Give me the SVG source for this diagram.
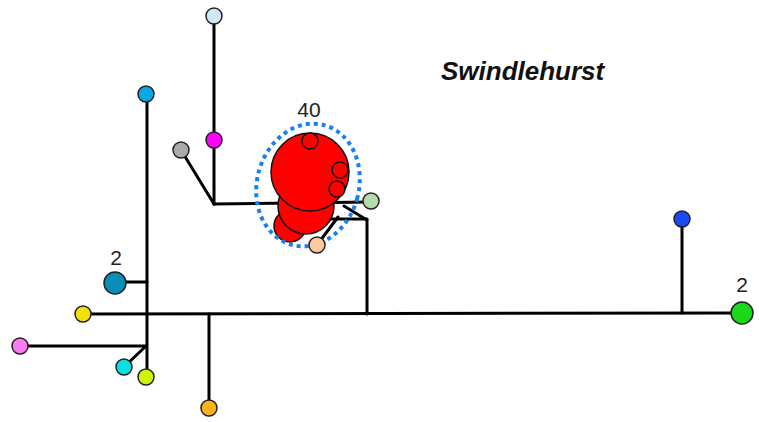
<svg xmlns="http://www.w3.org/2000/svg" width="759" height="422" viewBox="0 0 759 422">
<style>
.e{stroke:#000;stroke-width:3;fill:none;stroke-linecap:round}
.n{stroke:#222;stroke-width:1.5}
.r{fill:#f00;stroke:#111;stroke-width:1.5}
.t{font-family:"Liberation Sans",Arial,sans-serif;font-size:21px;fill:#222}
</style>
<rect width="759" height="422" fill="#fff"/>
<g id="connectors" class="e">
<line x1="83" y1="314" x2="742" y2="313"/>
<line x1="147" y1="94" x2="147" y2="377"/>
<line x1="115" y1="282" x2="147" y2="282"/>
<line x1="20" y1="346" x2="146" y2="346"/>
<line x1="146" y1="346" x2="124" y2="367"/>
<line x1="209" y1="314" x2="209" y2="408"/>
<line x1="214" y1="16" x2="214" y2="204"/>
<line x1="181" y1="150" x2="214" y2="204"/>
<line x1="214" y1="204" x2="371" y2="202"/>
<polyline points="344,206 367,220 367,314"/>
<line x1="330" y1="219" x2="367" y2="219"/>
<line x1="317" y1="245" x2="338" y2="217"/>
<line x1="682" y1="219" x2="682" y2="313"/>
</g>
<g id="hap40">
<circle class="r" cx="290" cy="226" r="16"/>
<circle class="r" cx="306" cy="206" r="28"/>
<circle class="r" cx="310" cy="172" r="39" stroke-width="3"/>
<circle class="r" cx="310" cy="141" r="8"/>
<circle class="r" cx="340" cy="170" r="8"/>
<circle class="r" cx="337" cy="189" r="8"/>
<ellipse cx="308" cy="185" rx="51" ry="62" transform="rotate(15 308 185)" fill="none" stroke="#1a7ff5" stroke-width="4" stroke-dasharray="4 4"/>
<text class="t" x="309" y="117" text-anchor="middle">40</text>
</g>
<g id="n-lightblue"><circle class="n" cx="214" cy="16" r="8" fill="#cfe8f5"/></g>
<g id="n-magenta"><circle class="n" cx="214" cy="140" r="8" fill="#ff00ff"/></g>
<g id="n-gray"><circle class="n" cx="181" cy="150" r="8" fill="#aaaaaa"/></g>
<g id="n-skyblue"><circle class="n" cx="146" cy="94" r="8" fill="#0aa6e8"/></g>
<g id="n-teal"><circle class="n" cx="115" cy="283" r="11" fill="#0a8db8"/><text class="t" x="116" y="265" text-anchor="middle">2</text></g>
<g id="n-yellow"><circle class="n" cx="83" cy="314" r="8" fill="#f5e10a"/></g>
<g id="n-pink"><circle class="n" cx="20" cy="346" r="8" fill="#fa7cf5"/></g>
<g id="n-cyan"><circle class="n" cx="124" cy="367" r="8" fill="#0ae0e0"/></g>
<g id="n-lime"><circle class="n" cx="146" cy="377" r="8" fill="#ccf50a"/></g>
<g id="n-orange"><circle class="n" cx="209" cy="408" r="8" fill="#ffb21a"/></g>
<g id="n-lightgreen"><circle class="n" cx="371" cy="201" r="8" fill="#b5daae"/></g>
<g id="n-peach"><circle class="n" cx="317" cy="245" r="8" fill="#ffc9a0"/></g>
<g id="n-blue"><circle class="n" cx="682" cy="219" r="8" fill="#1a4af5"/></g>
<g id="n-green"><circle class="n" cx="742" cy="313" r="11" fill="#1ad81a"/><text class="t" x="742" y="292" text-anchor="middle">2</text></g>
<text x="441" y="80" font-family="Liberation Sans,Arial,sans-serif" font-size="26" font-weight="bold" font-style="italic" fill="#111">Swindlehurst</text>
</svg>
